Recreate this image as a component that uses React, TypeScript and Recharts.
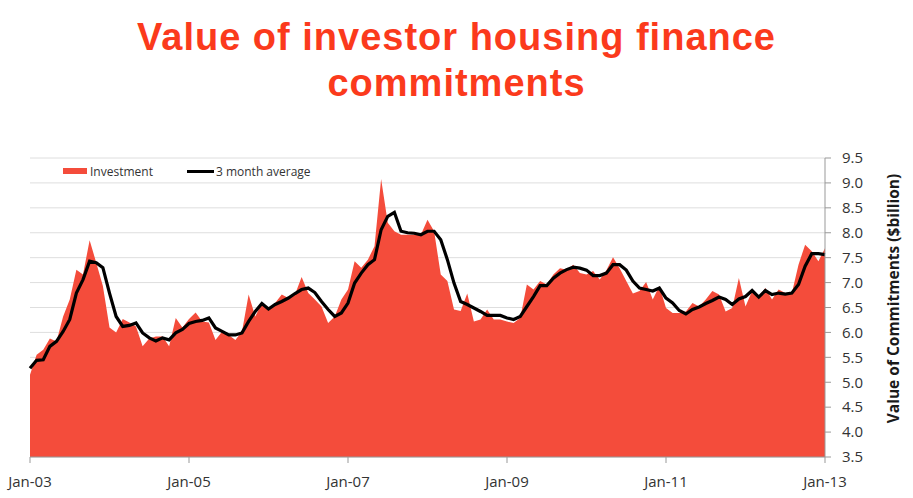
import { Area, CartesianGrid, ComposedChart, Label, Line, XAxis, YAxis } from "recharts";

const RED = "#f44c3b";
const FONT = "'Open Sans', 'DejaVu Sans', sans-serif";

const monthNames = ["Jan", "Feb", "Mar", "Apr", "May", "Jun", "Jul", "Aug", "Sep", "Oct", "Nov", "Dec"];
const months = Array.from({ length: 121 }, (_, i) => `${monthNames[i % 12]}-${String(3 + Math.floor(i / 12)).padStart(2, "0")}`);

// $billion, Jan-03 .. Jan-13
const investment = [
  5.15, 5.55, 5.65, 5.88, 5.82, 6.32, 6.66, 7.26, 7.16, 7.85, 7.4, 6.93,
  6.1, 6.0, 6.27, 6.2, 6.12, 5.72, 5.88, 5.92, 5.92, 5.72, 6.29, 6.1,
  6.27, 6.4, 6.22, 6.2, 5.85, 6.02, 5.95, 5.85, 6.02, 6.76, 6.32, 6.59,
  6.46, 6.59, 6.76, 6.69, 6.76, 7.11, 6.79, 6.66, 6.52, 6.19, 6.32, 6.66,
  6.86, 7.43, 7.3, 7.46, 7.73, 9.08, 8.2, 8.03, 7.96, 7.96, 7.96, 7.96,
  8.26, 8.03, 7.16, 7.03, 6.46, 6.43, 6.78, 6.22, 6.26, 6.46, 6.26, 6.26,
  6.22, 6.19, 6.29, 6.96, 6.86, 7.03, 6.96, 7.16, 7.29, 7.26, 7.36, 7.19,
  7.16, 7.23, 7.06, 7.25, 7.51, 7.29, 7.03, 6.78, 6.83, 7.01, 6.66, 6.93,
  6.49, 6.39, 6.39, 6.42, 6.59, 6.52, 6.66, 6.83, 6.76, 6.42, 6.49, 7.09,
  6.52, 6.83, 6.72, 6.89, 6.66, 6.86, 6.79, 6.79, 7.36, 7.76, 7.63, 7.43,
  7.69
];

const threeMonthAverage = [
  5.28, 5.44, 5.45, 5.72, 5.82, 6.02, 6.26, 6.79, 7.06, 7.43, 7.4, 7.3,
  6.79, 6.32, 6.12, 6.14, 6.19, 5.99, 5.89, 5.83, 5.89, 5.85, 5.99, 6.06,
  6.18, 6.22, 6.24, 6.29, 6.09, 6.02, 5.95, 5.95, 5.99, 6.22, 6.42, 6.58,
  6.47, 6.56, 6.62, 6.69, 6.78, 6.86, 6.89, 6.8, 6.62, 6.46, 6.32, 6.39,
  6.59, 6.99, 7.19, 7.36, 7.46, 8.06, 8.33, 8.41, 8.03, 8.0, 7.99, 7.96,
  8.03, 8.03, 7.86, 7.46, 6.99, 6.62, 6.56, 6.49, 6.42, 6.34, 6.34, 6.34,
  6.29, 6.26, 6.32, 6.52, 6.72, 6.94, 6.94, 7.09, 7.19, 7.26, 7.31, 7.29,
  7.25, 7.14, 7.14, 7.19, 7.36, 7.36, 7.25, 7.03, 6.89, 6.86, 6.83, 6.89,
  6.69, 6.59, 6.44, 6.37, 6.46, 6.51, 6.58, 6.64, 6.71, 6.66, 6.56, 6.67,
  6.72, 6.84, 6.71, 6.84, 6.76, 6.79, 6.77, 6.79, 6.96, 7.33, 7.58, 7.58,
  7.56
];

const xTicks = ["Jan-03", "Jan-05", "Jan-07", "Jan-09", "Jan-11", "Jan-13"];
const yTicks = [3.5, 4, 4.5, 5, 5.5, 6, 6.5, 7, 7.5, 8, 8.5, 9, 9.5];

const data = months.map((month, i) => ({
  month,
  investment: investment[i],
  average: threeMonthAverage[i]
}));

function AxisTitle(props: any) {
  const { viewBox } = props;
  const cx = viewBox.x + 68;
  const cy = viewBox.y + viewBox.height / 2 - 9;
  return (
    <text
      x={cx}
      y={cy}
      transform={`rotate(-90 ${cx} ${cy})`}
      textAnchor="middle"
      dominantBaseline="central"
      style={{ fontFamily: FONT, fontSize: 15.5, fontWeight: 700, fill: "#1a1a1a" }}
    >
      Value of Commitments ($billion)
    </text>
  );
}

export default function App() {
  return (
    <div style={{ position: "absolute", left: 0, top: 0, width: 913, height: 498, background: "#fff", fontFamily: FONT }}>
      <div
        style={{
          position: "absolute",
          left: 0,
          top: 14,
          width: 913,
          textAlign: "center",
          color: "#fb3a1c",
          fontFamily: "'Liberation Sans', Arial, sans-serif",
          fontWeight: 700,
          fontSize: 38,
          letterSpacing: 1,
          lineHeight: "46px"
        }}
      >
        <div>Value of investor housing finance</div>
        <div>commitments</div>
      </div>

      <ComposedChart width={913} height={498} data={data} margin={{ top: 158, right: 0, bottom: 0, left: 30 }}>
        <CartesianGrid horizontal vertical={false} stroke="#dedede" />
        <XAxis
          dataKey="month"
          ticks={xTicks}
          interval={0}
          height={41}
          tickSize={6}
          tickMargin={13}
          axisLine={{ stroke: "#999" }}
          tickLine={{ stroke: "#999" }}
          tick={{ fontSize: 15, fill: "#333", fontFamily: FONT }}
        />
        <YAxis
          orientation="right"
          domain={[3.5, 9.5]}
          ticks={yTicks}
          width={88}
          tickSize={6}
          tickMargin={11}
          tickFormatter={(v: number) => v.toFixed(1)}
          axisLine={{ stroke: "#999" }}
          tickLine={{ stroke: "#999" }}
          tick={{ fontSize: 15, fill: "#333", fontFamily: FONT, textAnchor: "start" }}
          label={<Label content={AxisTitle} />}
        />
        <Area
          type="linear"
          dataKey="investment"
          name="Investment"
          fill={RED}
          fillOpacity={1}
          stroke="none"
          isAnimationActive={false}
        />
        <Line
          type="linear"
          dataKey="average"
          name="3 month average"
          stroke="#000"
          strokeWidth={3.2}
          dot={false}
          isAnimationActive={false}
        />
      </ComposedChart>

      <div style={{ position: "absolute", left: 63, top: 162, display: "flex", alignItems: "center", fontSize: 12, color: "#333", height: 18 }}>
        <span style={{ display: "inline-block", width: 24, height: 6, background: RED, marginRight: 3 }} />
        <span>Investment</span>
        <span style={{ display: "inline-block", width: 27, height: 3, background: "#000", marginLeft: 34, marginRight: 2 }} />
        <span>3 month average</span>
      </div>
    </div>
  );
}
